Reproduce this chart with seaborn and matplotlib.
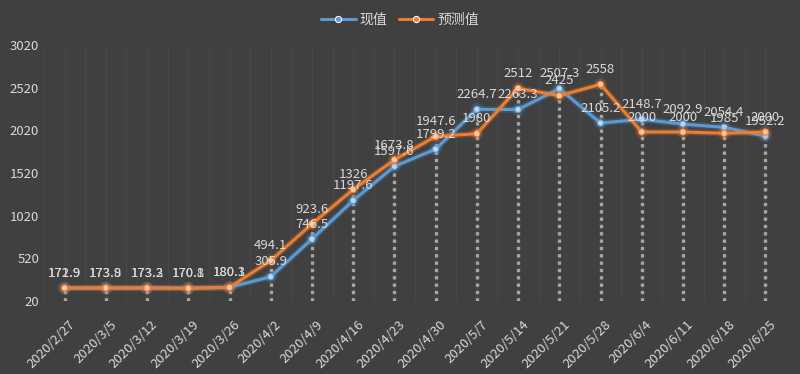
import pandas as pd
import matplotlib
matplotlib.use("Agg")
import matplotlib.pyplot as plt
import matplotlib.patheffects as pe
import matplotlib.transforms as mtransforms
import seaborn as sns

# Data
dates = ["2020/2/27", "2020/3/5", "2020/3/12", "2020/3/19", "2020/3/26", "2020/4/2",
         "2020/4/9", "2020/4/16", "2020/4/23", "2020/4/30", "2020/5/7", "2020/5/14",
         "2020/5/21", "2020/5/28", "2020/6/4", "2020/6/11", "2020/6/18", "2020/6/25"]
actual = [171.9, 173.8, 173.2, 170.8, 180.3, 305.9, 746.5, 1197.6, 1597.6, 1799.2,
          2264.7, 2263.3, 2507.3, 2105.2, 2148.7, 2092.9, 2054.4, 1952.2]
forecast = [172.9, 173.9, 173.3, 170.1, 180.1, 494.1, 923.6, 1326, 1673.8, 1947.6,
            1980, 2512, 2425, 2558, 2000, 2000, 1985, 2000]
series_names = ["现值", "预测值"]
y_ticks = [20, 520, 1020, 1520, 2020, 2520, 3020]

bg = "#404040"
txt = "#d9d9d9"
colors = ["#5B9BD5", "#ED7D31"]
marker_fill = ["#bcd6ee", "#f8c8a6"]

df = pd.DataFrame({"date": dates, series_names[0]: actual, series_names[1]: forecast})
long_df = df.melt(id_vars="date", var_name="series", value_name="value")

sns.set_style("dark", {"axes.facecolor": bg, "figure.facecolor": bg})
plt.rcParams["font.family"] = ["Noto Sans CJK SC", "DejaVu Sans"]

fig = plt.figure(figsize=(8, 3.74), dpi=100)
ax = fig.add_axes([0.055, 0.195, 0.9275, 0.685])
ax.set_facecolor(bg)

ax = sns.lineplot(data=long_df, x="date", y="value", hue="series", palette=colors,
                  marker="o", markersize=4.5, linewidth=2.2, sort=False, ax=ax, zorder=3)
series_lines = list(ax.lines[:2])

# faint vertical grid lines
for i in range(len(dates) * 2 + 1):
    ax.axvline(-0.5 + i * 0.5, color="#474747", lw=1, zorder=0)

# drop lines from the higher point down to the axis
tops = [max(a, f) for a, f in zip(actual, forecast)]
ax.vlines(range(len(dates)), y_ticks[0], tops, colors="#a6a6a6", linewidth=2.4,
          linestyles=(0, (1, 1.2)), zorder=2)

# soft glow on lines, lighter markers
for line, c, mf in zip(series_lines, colors, marker_fill):
    line.set_path_effects([pe.Stroke(linewidth=4.5, foreground=c, alpha=0.22), pe.Normal()])
    line.set_markerfacecolor(mf)
    line.set_markeredgecolor(c)
    line.set_markeredgewidth(0.8)

# data labels
for vals in (actual, forecast):
    for i, v in enumerate(vals):
        ax.annotate(f"{v:g}", (i, v), xytext=(0, 6), textcoords="offset points",
                    ha="center", va="bottom", fontsize=9.5, color=txt, zorder=5)

ax.set_ylim(y_ticks[0], y_ticks[-1])
ax.set_xlim(-0.5, len(dates) - 0.5)
ax.set_yticks(y_ticks)
ax.set_xlabel("")
ax.set_ylabel("")
ax.tick_params(axis="both", length=0, colors=txt, labelsize=9.5)
shift = mtransforms.ScaledTranslation(4 / 100, -12 / 100, fig.dpi_scale_trans)
for lab in ax.get_xticklabels():
    lab.set_rotation(45)
    lab.set_ha("right")
    lab.set_rotation_mode("anchor")
    lab.set_transform(lab.get_transform() + shift)
for s in ax.spines.values():
    s.set_visible(False)

handles, labels = ax.get_legend_handles_labels()
ax.legend_.remove()
leg = fig.legend(handles[:2], series_names, loc="upper center", bbox_to_anchor=(0.5, 1.0),
                 ncol=2, frameon=False, fontsize=10, handlelength=2.5, columnspacing=0.8,
                 handletextpad=0.3)
for t in leg.get_texts():
    t.set_color(txt)

fig.savefig("out.png", dpi=100, facecolor=bg)
